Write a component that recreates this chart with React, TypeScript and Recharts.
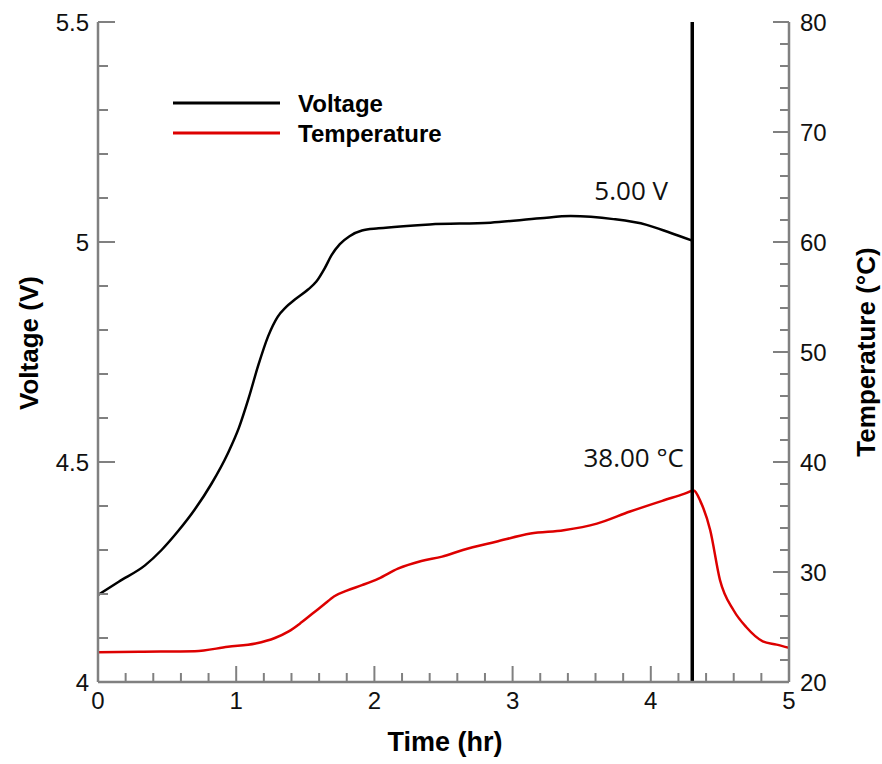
import { LineChart, Line, XAxis, YAxis, ReferenceLine } from 'recharts'

// voltage (V) vs time (hr)
const voltageTime = [0, 0.15, 0.34, 0.46, 0.58, 0.7, 0.82, 0.94, 1.02, 1.09, 1.16, 1.23, 1.3, 1.36, 1.42, 1.52, 1.58, 1.64, 1.69, 1.75, 1.82, 1.91, 2.03, 2.4, 2.84, 3.2, 3.42, 3.73, 3.97, 4.14, 4.3]
const voltageValues = [4.198, 4.228, 4.265, 4.3, 4.343, 4.392, 4.45, 4.52, 4.578, 4.645, 4.72, 4.785, 4.83, 4.852, 4.868, 4.892, 4.91, 4.94, 4.97, 4.995, 5.013, 5.026, 5.031, 5.04, 5.044, 5.054, 5.059, 5.052, 5.039, 5.021, 5.003]

// temperature (°C) vs time (hr)
const tempTime = [0, 0.3, 0.7, 0.94, 1.14, 1.28, 1.38, 1.47, 1.55, 1.63, 1.71, 1.8, 1.91, 2.03, 2.17, 2.34, 2.49, 2.64, 2.88, 3.13, 3.37, 3.61, 3.85, 4.09, 4.24, 4.31, 4.36, 4.43, 4.5, 4.6, 4.69, 4.81, 4.91, 5.0]
const tempValues = [22.7, 22.75, 22.8, 23.2, 23.5, 24.0, 24.6, 25.4, 26.2, 27.0, 27.8, 28.3, 28.8, 29.4, 30.3, 31.0, 31.4, 32.0, 32.75, 33.5, 33.8, 34.4, 35.5, 36.5, 37.1, 37.4, 36.4, 33.8, 29.3, 26.5, 25.0, 23.7, 23.4, 23.1]

const cutoffTime = 4.3

const xTicks = [0, 0.2, 0.4, 0.6, 0.8, 1, 1.2, 1.4, 1.6, 1.8, 2, 2.2, 2.4, 2.6, 2.8, 3, 3.2, 3.4, 3.6, 3.8, 4, 4.2, 4.4, 4.6, 4.8, 5]
const vTicks = [4, 4.1, 4.2, 4.3, 4.4, 4.5, 4.6, 4.7, 4.8, 4.9, 5, 5.1, 5.2, 5.3, 5.4, 5.5]
const tTicks = [20, 22, 24, 26, 28, 30, 32, 34, 36, 38, 40, 42, 44, 46, 48, 50, 52, 54, 56, 58, 60, 62, 64, 66, 68, 70, 72, 74, 76, 78, 80]

const voltageData = voltageTime.map((t, i) => ({ t, v: voltageValues[i] }))
const tempData = tempTime.map((t, i) => ({ t, temp: tempValues[i] }))

const AXIS = '#808080'
const FONT = '"Liberation Sans", Arial, sans-serif'

const isMajor = (v: number, step: number) => Math.abs(v / step - Math.round(v / step)) < 1e-6

function LeftTick({ x, y, payload }: any) {
  const major = isMajor(payload.value, 0.5)
  return (
    <g>
      <line x1={x} x2={x + (major ? 17 : 10)} y1={y} y2={y} stroke={AXIS} strokeWidth={2} />
      {major && (
        <text x={x - 9} y={y} textAnchor="end" dominantBaseline="central" fontSize={24} fontFamily={FONT} fill="#111">
          {payload.value}
        </text>
      )}
    </g>
  )
}

function RightTick({ x, y, payload }: any) {
  const major = isMajor(payload.value, 10)
  return (
    <g>
      <line x1={x} x2={x - (major ? 16 : 9)} y1={y} y2={y} stroke={AXIS} strokeWidth={2} />
      {major && (
        <text x={x + 11} y={y} textAnchor="start" dominantBaseline="central" fontSize={24} fontFamily={FONT} fill="#111">
          {payload.value}
        </text>
      )}
    </g>
  )
}

function BottomTick({ x, y, payload }: any) {
  const major = isMajor(payload.value, 1)
  return (
    <g>
      <line x1={x} x2={x} y1={y} y2={y - (major ? 16 : 9)} stroke={AXIS} strokeWidth={2} />
      {major && (
        <text x={x} y={y + 18} textAnchor="middle" dominantBaseline="central" fontSize={24} fontFamily={FONT} fill="#111">
          {payload.value}
        </text>
      )}
    </g>
  )
}

export default function App() {
  return (
    <div style={{ position: 'absolute', left: 0, top: 0, width: 882, height: 764, background: '#fff' }}>
      <LineChart width={882} height={764} margin={{ top: 22, right: 0, bottom: 22, left: 0 }}>
        <XAxis
          dataKey="t"
          type="number"
          domain={[0, 5]}
          ticks={xTicks}
          interval={0}
          allowDataOverflow
          height={60}
          tickSize={0}
          tickMargin={0}
          tickLine={false}
          axisLine={{ stroke: AXIS, strokeWidth: 2.5 }}
          tick={<BottomTick />}
        />
        <XAxis
          xAxisId="top"
          orientation="top"
          type="number"
          domain={[0, 5]}
          height={0}
          tick={false}
          tickLine={false}
          axisLine={{ stroke: AXIS, strokeWidth: 2.5 }}
        />
        <YAxis
          yAxisId="v"
          orientation="left"
          type="number"
          domain={[4, 5.5]}
          ticks={vTicks}
          interval={0}
          allowDataOverflow
          width={98}
          tickSize={0}
          tickMargin={0}
          tickLine={false}
          axisLine={{ stroke: AXIS, strokeWidth: 2.5 }}
          tick={<LeftTick />}
        />
        <YAxis
          yAxisId="temp"
          orientation="right"
          type="number"
          domain={[20, 80]}
          ticks={tTicks}
          interval={0}
          allowDataOverflow
          width={93}
          tickSize={0}
          tickMargin={0}
          tickLine={false}
          axisLine={{ stroke: AXIS, strokeWidth: 2.5 }}
          tick={<RightTick />}
        />
        <Line
          yAxisId="temp"
          data={tempData}
          dataKey="temp"
          type="monotone"
          stroke="#dd0000"
          strokeWidth={2.5}
          dot={false}
          isAnimationActive={false}
        />
        <Line
          yAxisId="v"
          data={voltageData}
          dataKey="v"
          type="monotone"
          stroke="#000"
          strokeWidth={2.5}
          dot={false}
          isAnimationActive={false}
        />
        <ReferenceLine yAxisId="v" x={cutoffTime} stroke="#000" strokeWidth={3.5} />
      </LineChart>

      <svg width={882} height={764} style={{ position: 'absolute', left: 0, top: 0, pointerEvents: 'none' }}>
        <line x1={173} x2={280} y1={103} y2={103} stroke="#000" strokeWidth={3} />
        <line x1={173} x2={280} y1={133} y2={133} stroke="#dd0000" strokeWidth={3} />
        <text x={298} y={103} dominantBaseline="central" fontSize={24} fontWeight="bold" fontFamily={FONT}>Voltage</text>
        <text x={298} y={133} dominantBaseline="central" fontSize={24} fontWeight="bold" fontFamily={FONT}>Temperature</text>

        <text x={668} y={190} textAnchor="end" dominantBaseline="central" fontSize={26} fontFamily='"Open Sans", sans-serif' fill="#111">5.00 V</text>
        <text x={684} y={457} textAnchor="end" dominantBaseline="central" fontSize={26} fontFamily='"Open Sans", sans-serif' fill="#111">38.00 °C</text>

        <text x={445} y={742} textAnchor="middle" dominantBaseline="central" fontSize={27} fontWeight="bold" fontFamily={FONT}>Time (hr)</text>
        <text transform="translate(29,343) rotate(-90)" textAnchor="middle" dominantBaseline="central" fontSize={26} fontWeight="bold" fontFamily={FONT}>Voltage (V)</text>
        <text transform="translate(866,352) rotate(-90)" textAnchor="middle" dominantBaseline="central" fontSize={26} fontWeight="bold" fontFamily={FONT}>Temperature (°C)</text>
      </svg>
    </div>
  )
}
